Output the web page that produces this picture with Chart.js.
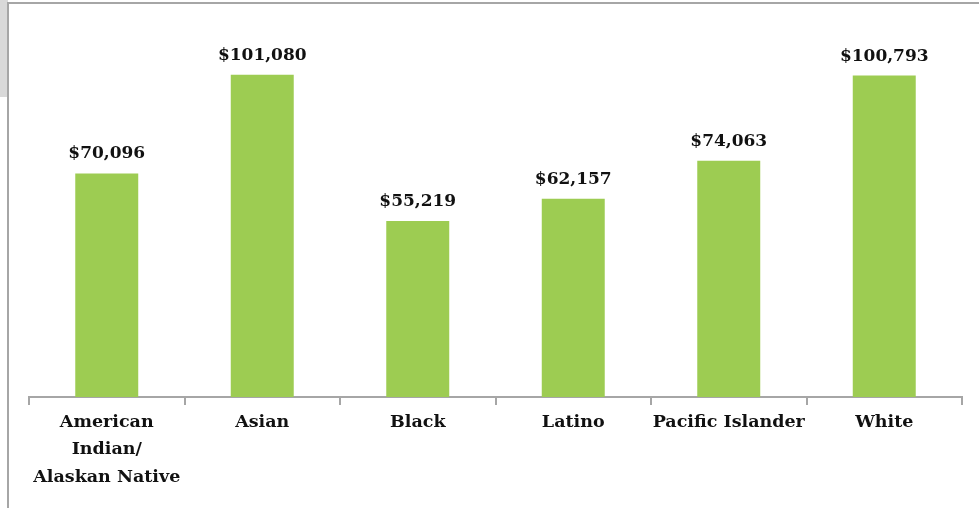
<!DOCTYPE html>
<html>
<head>
<meta charset="utf-8">
<script src="https://cdn.jsdelivr.net/npm/chart.js@4/dist/chart.umd.min.js"></script>
<style>
  html, body { margin: 0; padding: 0; background: #fff; }
  #wrap { position: relative; width: 979px; height: 508px; overflow: hidden; }
  #strip { position: absolute; left: 0; top: 0; width: 8px; height: 97px; background: #d9d9d9; }
  #frame { position: absolute; left: 7px; top: 2px; right: -5px; bottom: -5px;
           border-top: 2px solid #a6a6a6; border-left: 2px solid #a6a6a6; }
  canvas { position: absolute; left: 0; top: 0; }
</style>
</head>
<body>
<div id="wrap">
  <div id="strip"></div>
  <div id="frame"></div>
  <canvas id="incomeChart" width="979" height="508"></canvas>
</div>
<script>
// Median household income by race/ethnicity
const categories = [
    ["American", "Indian/", "Alaskan Native"],
    "Asian",
    "Black",
    "Latino",
    "Pacific Islander",
    "White"
];
const incomes = [70096, 101080, 55219, 62157, 74063, 100793];

const barColor = "#9dcc52";
const axisColor = "#a6a6a6";
const fontFamily = "'DejaVu Serif', serif";

// draw the dollar value over each bar
const valueLabels = {
    id: 'valueLabels',
    afterDatasetsDraw(chart) {
        const ctx = chart.ctx;
        const meta = chart.getDatasetMeta(0);
        ctx.save();
        ctx.font = "bold 17px " + fontFamily;
        ctx.fillStyle = "#111";
        ctx.textAlign = "center";
        ctx.textBaseline = "alphabetic";
        meta.data.forEach(function (bar, i) {
            const txt = "$" + incomes[i].toLocaleString("en-US");
            ctx.fillText(txt, bar.x, bar.y - 15);
        });
        ctx.restore();
    }
};

new Chart(document.getElementById("incomeChart"), {
    type: 'bar',
    data: {
        labels: categories,
        datasets: [{
            data: incomes,
            backgroundColor: barColor,
            barPercentage: 0.405,
            categoryPercentage: 1
        }]
    },
    options: {
        responsive: false,
        animation: false,
        layout: { padding: { left: 29, right: 17, top: 0, bottom: 0 } },
        plugins: {
            legend: { display: false },
            tooltip: { enabled: false }
        },
        scales: {
            y: {
                display: false,
                min: 0,
                max: 124500
            },
            x: {
                afterFit: function (scale) { scale.height = 111; },
                border: { display: true, color: axisColor, width: 2 },
                grid: {
                    offset: true,
                    drawOnChartArea: false,
                    drawTicks: true,
                    tickLength: 8,
                    color: axisColor,
                    lineWidth: 2
                },
                ticks: {
                    color: "#111",
                    padding: 4,
                    maxRotation: 0,
                    autoSkip: false,
                    font: { family: fontFamily, weight: 'bold', size: 17.5, lineHeight: 1.56 }
                }
            }
        }
    },
    plugins: [valueLabels]
});
</script>
</body>
</html>
